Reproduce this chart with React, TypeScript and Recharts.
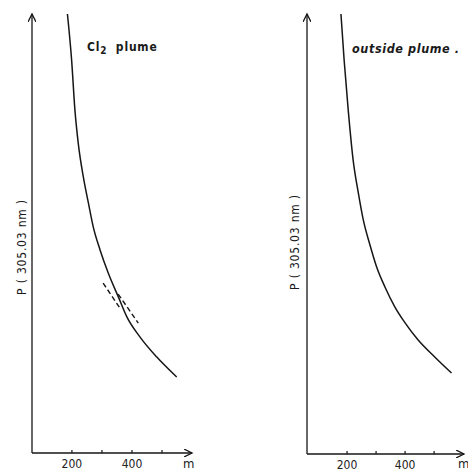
import React from "react";
import { LineChart, Line, XAxis, YAxis } from "recharts";

// distance axis (m) and relative P(305.03 nm)
const plumeM = [185, 199, 210, 221, 238, 255, 271, 294, 321, 355, 383, 427, 482, 549];
const plumeP = [100, 89.5, 78.1, 70.6, 62.9, 56.9, 51.5, 46.2, 41.0, 35.5, 31.0, 26.4, 21.9, 17.3];

// two dashed guide lines on the Cl2 panel
const dashAM = [304, 360];
const dashAP = [38.7, 33.0];
const dashBM = [354, 421];
const dashBP = [36.2, 29.6];

const outsideM = [179, 190, 204, 221, 239, 256, 279, 302, 331, 365, 400, 445, 503, 560];
const outsideP = [100, 89.5, 78.2, 66.8, 59.3, 53.2, 47.5, 42.5, 37.9, 33.4, 29.8, 25.9, 22.0, 18.4];

const xTicks = [200, 300, 400, 500];
const xLabels = [200, 400];

const ink = "#161616";
const font = "'DejaVu Sans Condensed', 'DejaVu Sans', sans-serif";

const zip = (m: number[], p: number[]) => m.map((v, i) => ({ m: v, p: p[i] }));

const AxisTick = (props: any) => {
  const { x, y, payload } = props;
  return (
    <g>
      <line x1={x} x2={x} y1={y} y2={y - 3} stroke={ink} strokeWidth={1.2} />
      {xLabels.includes(payload.value) && (
        <text x={x} y={y + 15} textAnchor="middle" fontSize={12} fill="#222" fontFamily={font}>
          {payload.value}
        </text>
      )}
    </g>
  );
};

function Panel({
  id,
  domain,
  margin,
  axisHeight,
  series,
}: {
  id: string;
  domain: [number, number];
  margin: { top: number; right: number; left: number; bottom: number };
  axisHeight: number;
  series: { data: { m: number; p: number }[]; dashed?: boolean }[];
}) {
  return (
    <LineChart width={234} height={473} margin={margin}>
      <defs>
        <marker
          id={id}
          markerWidth={10}
          markerHeight={8}
          refX={8}
          refY={4}
          orient="auto-start-reverse"
          markerUnits="userSpaceOnUse"
        >
          <path d="M0,0 L8,4 L0,8" fill="none" stroke={ink} strokeWidth={1.3} />
        </marker>
      </defs>
      <XAxis
        type="number"
        dataKey="m"
        domain={domain}
        ticks={xTicks}
        allowDataOverflow
        height={axisHeight}
        tickLine={false}
        tickSize={0}
        tickMargin={0}
        tick={<AxisTick />}
        axisLine={{ stroke: ink, strokeWidth: 1.3, markerEnd: `url(#${id})` }}
      />
      <YAxis
        type="number"
        dataKey="p"
        domain={[0, 100]}
        width={1}
        tick={false}
        tickLine={false}
        axisLine={{ stroke: ink, strokeWidth: 1.3, markerStart: `url(#${id})` }}
      />
      {series.map((s, i) => (
        <Line
          key={i}
          data={s.data}
          dataKey="p"
          type="monotone"
          stroke={ink}
          strokeWidth={s.dashed ? 1.4 : 1.5}
          strokeDasharray={s.dashed ? "5 3" : undefined}
          dot={false}
          activeDot={false}
          isAnimationActive={false}
        />
      ))}
    </LineChart>
  );
}

const textStyle: React.CSSProperties = {
  position: "absolute",
  fontFamily: font,
  color: "#1a1a1a",
  whiteSpace: "nowrap",
};

const yLabelStyle = (left: number, top: number): React.CSSProperties => ({
  ...textStyle,
  left,
  top,
  fontSize: 12,
  letterSpacing: 0.8,
  transform: "translate(-50%, -50%) rotate(-90deg)",
});

export default function App() {
  return (
    <div
      style={{
        position: "absolute",
        left: 0,
        top: 0,
        width: 468,
        height: 473,
        background: "#fff",
        overflow: "hidden",
      }}
    >
      <div style={{ position: "absolute", left: 0, top: 0 }}>
        <Panel
          id="arrowL"
          domain={[67, 600]}
          margin={{ top: 14, right: 42, left: 31, bottom: 0 }}
          axisHeight={20}
          series={[
            { data: zip(plumeM, plumeP) },
            { data: zip(dashAM, dashAP), dashed: true },
            { data: zip(dashBM, dashBP), dashed: true },
          ]}
        />
      </div>
      <div style={{ position: "absolute", left: 234, top: 0 }}>
        <Panel
          id="arrowR"
          domain={[62, 603]}
          margin={{ top: 14, right: 4, left: 72, bottom: 0 }}
          axisHeight={19}
          series={[{ data: zip(outsideM, outsideP) }]}
        />
      </div>

      <div
        style={{ ...textStyle, left: 87, top: 40, fontSize: 12, fontWeight: "bold", letterSpacing: 0.8, wordSpacing: 4 }}
      >
        Cl<sub style={{ fontSize: 10 }}>2</sub> plume
      </div>
      <div
        style={{ ...textStyle, left: 352, top: 41, fontSize: 12.5, fontStyle: "italic", fontWeight: "bold", letterSpacing: 0.6 }}
      >
        outside plume .
      </div>

      <div style={yLabelStyle(22, 247)}>P ( 305.03 nm )</div>
      <div style={yLabelStyle(295, 242)}>P ( 305.03 nm )</div>

      <div style={{ ...textStyle, left: 183, top: 456, fontSize: 13 }}>m</div>
      <div style={{ ...textStyle, left: 458, top: 456, fontSize: 13 }}>m</div>
    </div>
  );
}
